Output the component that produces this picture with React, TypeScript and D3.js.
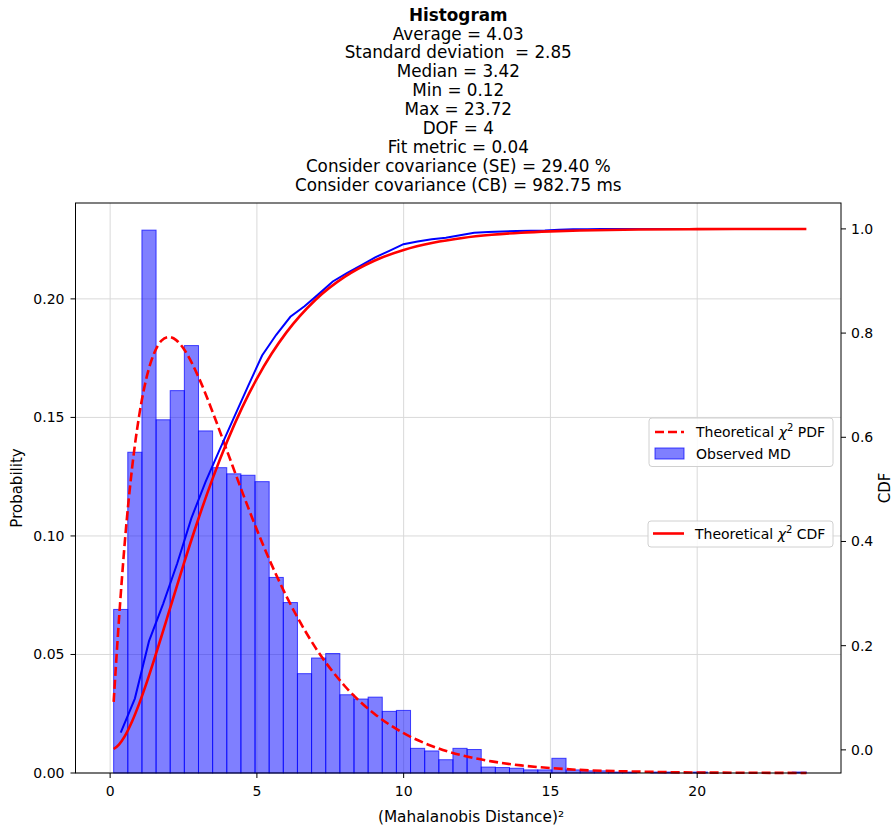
import React from "react";
import * as d3 from "d3";

// title block
const titleMain = "Histogram";
const titleLines = [
  "Average = 4.03",
  "Standard deviation  = 2.85",
  "Median = 3.42",
  "Min = 0.12",
  "Max = 23.72",
  "DOF = 4",
  "Fit metric = 0.04",
  "Consider covariance (SE) = 29.40 %",
  "Consider covariance (CB) = 982.75 ms",
];

// histogram: 49 equal bins between min and max (density)
const dataMin = 0.12;
const dataMax = 23.72;
const density = [
  0.069, 0.1353, 0.229, 0.149, 0.1613, 0.1803, 0.1443, 0.1288, 0.1262, 0.1256,
  0.1229, 0.0825, 0.0719, 0.0419, 0.0485, 0.0504, 0.033, 0.0312, 0.032, 0.026,
  0.0264, 0.0104, 0.0093, 0.0056, 0.0104, 0.0099, 0.0025, 0.0023, 0.002, 0.0013,
  0.0013, 0.0062, 0.0013, 0.0009, 0.0009, 0.0004, 0.0004, 0, 0.0004, 0.0004,
  0, 0.0004, 0, 0, 0, 0, 0, 0, 0.0004,
];

// observed CDF at bin centres
const observedCdf = [
  0.0332, 0.0984, 0.2087, 0.2804, 0.3581, 0.4449, 0.5144, 0.5765, 0.6373, 0.6977,
  0.7569, 0.7967, 0.8313, 0.8515, 0.8748, 0.8991, 0.915, 0.93, 0.9454, 0.9579,
  0.9707, 0.9757, 0.9802, 0.9829, 0.9879, 0.9926, 0.9938, 0.9949, 0.9959, 0.9965,
  0.9971, 0.9985, 0.9991, 0.9995, 0.9998, 0.9999, 1, 1, 1, 1,
  1, 1, 1, 1, 1, 1, 1, 1, 1,
];

// theoretical chi2 curves
const chiX = [
  0.12, 0.3, 0.5, 0.75, 1, 1.25, 1.5, 1.75, 2, 2.25, 2.5, 3, 3.5, 4, 4.5, 5, 5.5, 6,
  7, 8, 9, 10, 11, 12, 13, 14, 15, 16, 18, 20, 22, 23.72,
];
const chiPdf = [
  0.03, 0.0646, 0.0974, 0.1289, 0.1516, 0.1673, 0.1771, 0.1824, 0.1839, 0.1826,
  0.1791, 0.1673, 0.152, 0.1353, 0.1186, 0.1026, 0.0879, 0.0747, 0.0528, 0.0366,
  0.025, 0.0168, 0.0112, 0.0074, 0.0049, 0.0032, 0.0021, 0.0013, 0.0006, 0.0002,
  0.0001, 0,
];
const chiCdf = [
  0.0017, 0.0102, 0.0265, 0.055, 0.0902, 0.1301, 0.1733, 0.2183, 0.2642, 0.31,
  0.3554, 0.4422, 0.5221, 0.594, 0.6575, 0.7127, 0.7603, 0.8009, 0.8641, 0.9084,
  0.9389, 0.9596, 0.9734, 0.9826, 0.9887, 0.9927, 0.9953, 0.997, 0.9988, 0.9995,
  0.9998, 0.9999,
];

const xTicks = [0, 5, 10, 15, 20];
const leftTicks = [0, 0.05, 0.1, 0.15, 0.2];
const rightTicks = [0, 0.2, 0.4, 0.6, 0.8, 1.0];

const FONT = "DejaVu Sans";

export default function App() {
  const width = 895;
  const height = 827;
  const margin = { top: 203, right: 54, bottom: 54, left: 75.5 };
  const x0 = margin.left;
  const x1 = width - margin.right;
  const y0 = height - margin.bottom;
  const y1 = margin.top;

  const span = dataMax - dataMin;
  const pad = span * 0.05;
  const x = d3.scaleLinear().domain([dataMin - pad - 0.12, dataMax + pad]).range([x0, x1]);
  const yL = d3.scaleLinear().domain([0, d3.max(density)! * 1.05]).range([y0, y1]);
  const yR = d3.scaleLinear().domain([-0.0444, 1.0497]).range([y0, y1]);

  const nBins = density.length;
  const edge = d3.scaleLinear().domain([0, nBins]).range([dataMin, dataMax]);

  const pdfLine = d3
    .line<number>()
    .x((_, i) => x(chiX[i]))
    .y((d) => yL(d))
    .curve(d3.curveMonotoneX);
  const cdfLine = d3
    .line<number>()
    .x((_, i) => x(chiX[i]))
    .y((d) => yR(d))
    .curve(d3.curveMonotoneX);
  const obsLine = d3
    .line<number>()
    .x((_, i) => x(edge(i + 0.5)))
    .y((d) => yR(d));

  const cx = (x0 + x1) / 2;
  const cy = (y0 + y1) / 2;

  return (
    <svg
      width={width}
      height={height}
      style={{ position: "absolute", left: 0, top: 0, background: "#fff" }}
      fontFamily={FONT}
    >
      <rect width={width} height={height} fill="#fff" />

      {/* title */}
      <text x={cx} y={20.5} textAnchor="middle" fontSize={16.8} fontWeight="bold">
        {titleMain}
      </text>
      {titleLines.map((t, i) => (
        <text
          key={t}
          x={cx}
          y={39.5 + i * 18.95}
          textAnchor="middle"
          fontSize={16.8}
          style={{ whiteSpace: "pre" }}
        >
          {t}
        </text>
      ))}

      {/* grid */}
      {xTicks.map((t) => (
        <line key={"gx" + t} x1={x(t)} x2={x(t)} y1={y1} y2={y0} stroke="#d9d9d9" strokeWidth={1} />
      ))}
      {leftTicks.map((t) => (
        <line key={"gy" + t} x1={x0} x2={x1} y1={yL(t)} y2={yL(t)} stroke="#d9d9d9" strokeWidth={1} />
      ))}

      {/* histogram */}
      {density.map((d, i) => (
        <rect
          key={"b" + i}
          x={x(edge(i))}
          y={yL(d)}
          width={x(edge(i + 1)) - x(edge(i))}
          height={yL(0) - yL(d)}
          fill="rgba(0,0,255,0.5)"
          stroke="rgba(0,0,255,0.7)"
          strokeWidth={1}
        />
      ))}

      {/* theoretical pdf */}
      <path d={pdfLine(chiPdf)!} fill="none" stroke="#ff0000" strokeWidth={2.6} strokeDasharray="9,4" />

      {/* legend 1 */}
      <g>
        <rect x={649} y={418} width={184} height={48.5} rx={3} fill="rgba(255,255,255,0.85)" stroke="#d0d0d0" />
        <line x1={655} x2={684} y1={432} y2={432} stroke="#ff0000" strokeWidth={2.6} strokeDasharray="9,4" />
        <text x={696} y={437} fontSize={14}>
          <tspan>Theoretical </tspan>
          <tspan fontStyle="italic">χ</tspan>
          <tspan dy={-6} fontSize={10}>2</tspan>
          <tspan dy={6}> PDF</tspan>
        </text>
        <rect x={655} y={448} width={29} height={11} fill="rgba(0,0,255,0.5)" stroke="rgba(0,0,255,0.7)" />
        <text x={696} y={458.5} fontSize={14}>
          Observed MD
        </text>
      </g>

      {/* cdf lines (twin axis) */}
      <path d={obsLine(observedCdf)!} fill="none" stroke="#0000ff" strokeWidth={2} />
      <path d={cdfLine(chiCdf)!} fill="none" stroke="#ff0000" strokeWidth={2.6} />

      {/* legend 2 */}
      <g>
        <rect x={648} y={521} width={185} height={26} rx={3} fill="rgba(255,255,255,0.85)" stroke="#d0d0d0" />
        <line x1={653} x2={684} y1={533.5} y2={533.5} stroke="#ff0000" strokeWidth={2.6} />
        <text x={695} y={538.5} fontSize={14}>
          <tspan>Theoretical </tspan>
          <tspan fontStyle="italic">χ</tspan>
          <tspan dy={-6} fontSize={10}>2</tspan>
          <tspan dy={6}> CDF</tspan>
        </text>
      </g>

      {/* frame */}
      <rect x={x0} y={y1} width={x1 - x0} height={y0 - y1} fill="none" stroke="#000" strokeWidth={1} />

      {/* x axis */}
      {xTicks.map((t) => (
        <g key={"xt" + t}>
          <line x1={x(t)} x2={x(t)} y1={y0} y2={y0 + 5} stroke="#000" />
          <text x={x(t)} y={795.5} textAnchor="middle" fontSize={14}>
            {t}
          </text>
        </g>
      ))}
      <text x={471} y={822} textAnchor="middle" fontSize={15.3}>
        (Mahalanobis Distance)²
      </text>

      {/* left axis */}
      {leftTicks.map((t) => (
        <g key={"yl" + t}>
          <line x1={x0 - 5} x2={x0} y1={yL(t)} y2={yL(t)} stroke="#000" />
          <text x={x0 - 11} y={yL(t)} dy="0.35em" textAnchor="end" fontSize={14}>
            {d3.format(".2f")(t)}
          </text>
        </g>
      ))}
      <text transform={`translate(17,${cy}) rotate(-90)`} dy="0.35em" textAnchor="middle" fontSize={15}>
        Probability
      </text>

      {/* right axis */}
      {rightTicks.map((t) => (
        <g key={"yr" + t}>
          <line x1={x1} x2={x1 + 5} y1={yR(t)} y2={yR(t)} stroke="#000" />
          <text x={x1 + 10} y={yR(t)} dy="0.35em" textAnchor="start" fontSize={14}>
            {d3.format(".1f")(t)}
          </text>
        </g>
      ))}
      <text transform={`translate(885,${cy}) rotate(-90)`} dy="0.35em" textAnchor="middle" fontSize={15}>
        CDF
      </text>
    </svg>
  );
}
